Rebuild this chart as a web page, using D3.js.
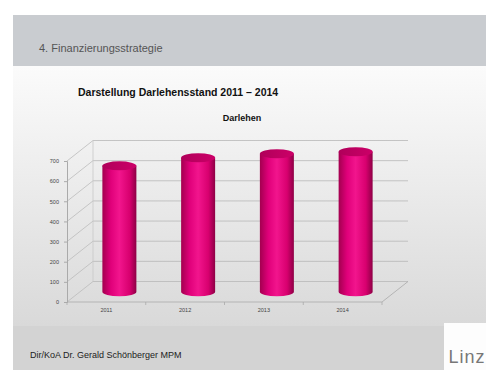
<!DOCTYPE html>
<html>
<head>
<meta charset="utf-8">
<script src="https://cdn.jsdelivr.net/npm/d3@7"></script>
<style>
  body { margin: 0; background: #fff; }
  svg { display: block; font-family: "Liberation Sans", Arial, sans-serif; }
</style>
</head>
<body>
<div id="chart"></div>
<script>
// data
const years = ["2011", "2012", "2013", "2014"];
const darlehen = [625, 665, 685, 695];
const yTicks = [0, 100, 200, 300, 400, 500, 600, 700];

window.onload = () => {
  const W = 486, H = 370;
  const svg = d3.select("#chart").append("svg")
    .attr("width", W).attr("height", H);

  const defs = svg.append("defs");
  const bodyGrad = defs.append("linearGradient").attr("id", "bodyGrad")
    .attr("x1", 0).attr("y1", 0).attr("x2", 0).attr("y2", 1);
  bodyGrad.append("stop").attr("offset", "0%").attr("stop-color", "#fbfbfb");
  bodyGrad.append("stop").attr("offset", "100%").attr("stop-color", "#d9d9d9");

  const cyl = defs.append("linearGradient").attr("id", "cyl")
    .attr("x1", 0).attr("y1", 0).attr("x2", 1).attr("y2", 0);
  cyl.append("stop").attr("offset", "0%").attr("stop-color", "#a3004f");
  cyl.append("stop").attr("offset", "25%").attr("stop-color", "#e0007a");
  cyl.append("stop").attr("offset", "50%").attr("stop-color", "#f2158d");
  cyl.append("stop").attr("offset", "80%").attr("stop-color", "#d8006f");
  cyl.append("stop").attr("offset", "100%").attr("stop-color", "#8e0045");

  const topGrad = defs.append("linearGradient").attr("id", "topGrad")
    .attr("x1", 0).attr("y1", 0).attr("x2", 1).attr("y2", 0);
  topGrad.append("stop").attr("offset", "0%").attr("stop-color", "#b0005a");
  topGrad.append("stop").attr("offset", "100%").attr("stop-color", "#cc0068");

  // --- slide background ---
  svg.append("rect").attr("x", 13).attr("y", 15).attr("width", W - 13).attr("height", 51)
    .attr("fill", "#c9ccd0");
  svg.append("rect").attr("x", 13).attr("y", 66).attr("width", W - 13).attr("height", 260)
    .attr("fill", "url(#bodyGrad)");
  svg.append("rect").attr("x", 13).attr("y", 326).attr("width", 431).attr("height", 44)
    .attr("fill", "#d3d3d3");
  svg.append("rect").attr("x", 444).attr("y", 323).attr("width", 42).attr("height", 47)
    .attr("fill", "#fdfdfd");

  svg.append("text").attr("x", 39).attr("y", 52)
    .style("font-size", "11px").style("fill", "#555")
    .text("4. Finanzierungsstrategie");

  svg.append("text").attr("x", 78).attr("y", 96)
    .style("font-size", "10.5px").style("font-weight", "bold").style("fill", "#111")
    .text("Darstellung Darlehensstand 2011 \u2013 2014");

  svg.append("text").attr("x", 242).attr("y", 121)
    .attr("text-anchor", "middle")
    .style("font-size", "9px").style("font-weight", "bold").style("fill", "#111")
    .text("Darlehen");

  svg.append("text").attr("x", 30).attr("y", 358)
    .style("font-size", "9px").style("fill", "#222")
    .text("Dir/KoA Dr. Gerald Schönberger MPM");

  svg.append("text").attr("x", 467).attr("y", 363)
    .attr("text-anchor", "middle")
    .style("font-size", "18px").style("font-weight", "300").style("fill", "#777")
    .style("letter-spacing", "1px")
    .text("Linz");

  // --- chart ---
  const x0 = 67, x1 = 382;
  const dx = 26, dy = -20.5;
  const x = d3.scaleBand().domain(years).range([x0, x1]);
  const y = d3.scaleLinear().domain([0, 700]).range([302, 161]);

  const plot = svg.append("g");

  // back wall grid lines
  plot.selectAll(".grid").data(yTicks).enter().append("line")
    .attr("x1", x0 + dx).attr("x2", x1 + dx)
    .attr("y1", d => y(d) + dy).attr("y2", d => y(d) + dy)
    .attr("stroke", "#b8b8b8").attr("stroke-width", 0.8);

  // side wall diagonals
  plot.selectAll(".side").data(yTicks).enter().append("line")
    .attr("x1", x0).attr("x2", x0 + dx)
    .attr("y1", d => y(d)).attr("y2", d => y(d) + dy)
    .attr("stroke", "#bbb").attr("stroke-width", 0.8);

  // back-left vertical
  plot.append("line")
    .attr("x1", x0 + dx).attr("x2", x0 + dx)
    .attr("y1", y(0) + dy).attr("y2", y(700) + dy)
    .attr("stroke", "#c8c8c8").attr("stroke-width", 0.8);

  // floor
  plot.append("path")
    .attr("d", `M${x0},${y(0)}L${x1},${y(0)}L${x1 + dx},${y(0) + dy}`)
    .attr("fill", "none").attr("stroke", "#aaa").attr("stroke-width", 0.8);

  // y axis on front plane
  const yAxis = plot.append("g")
    .attr("transform", `translate(${x0},0)`)
    .call(d3.axisLeft(y).tickValues(yTicks).tickSize(3).tickPadding(5));
  yAxis.select(".domain").attr("stroke", "#aaa");
  yAxis.selectAll(".tick line").attr("stroke", "#aaa");
  yAxis.selectAll("text").style("font-size", "5.5px").style("fill", "#444");

  // x axis
  const xAxis = plot.append("g")
    .attr("transform", `translate(0,${y(0)})`)
    .call(d3.axisBottom(x).tickSize(0).tickPadding(6));
  xAxis.select(".domain").remove();
  xAxis.selectAll("text").style("font-size", "5.5px").style("fill", "#444");

  plot.selectAll(".xtick").data(d3.range(years.length + 1)).enter().append("line")
    .attr("x1", i => x0 + i * x.bandwidth()).attr("x2", i => x0 + i * x.bandwidth())
    .attr("y1", y(0)).attr("y2", y(0) + 3)
    .attr("stroke", "#aaa").attr("stroke-width", 0.8);

  // cylinders
  const rx = 17, ry = 4.5;
  const bars = plot.selectAll(".bar")
    .data(years.map((yr, i) => ({ yr, v: darlehen[i] })))
    .enter().append("g");

  bars.append("path")
    .attr("d", d => {
      const cx = x(d.yr) + x.bandwidth() / 2 + dx / 2;
      const yb = y(0) + dy / 2;
      const yt = y(d.v) + dy / 2;
      return `M${cx - rx},${yt}L${cx - rx},${yb}` +
        `A${rx},${ry} 0 0 0 ${cx + rx},${yb}L${cx + rx},${yt}Z`;
    })
    .attr("fill", "url(#cyl)");

  bars.append("ellipse")
    .attr("cx", d => x(d.yr) + x.bandwidth() / 2 + dx / 2)
    .attr("cy", d => y(d.v) + dy / 2)
    .attr("rx", rx).attr("ry", ry)
    .attr("fill", "url(#topGrad)");
};
</script>
</body>
</html>
